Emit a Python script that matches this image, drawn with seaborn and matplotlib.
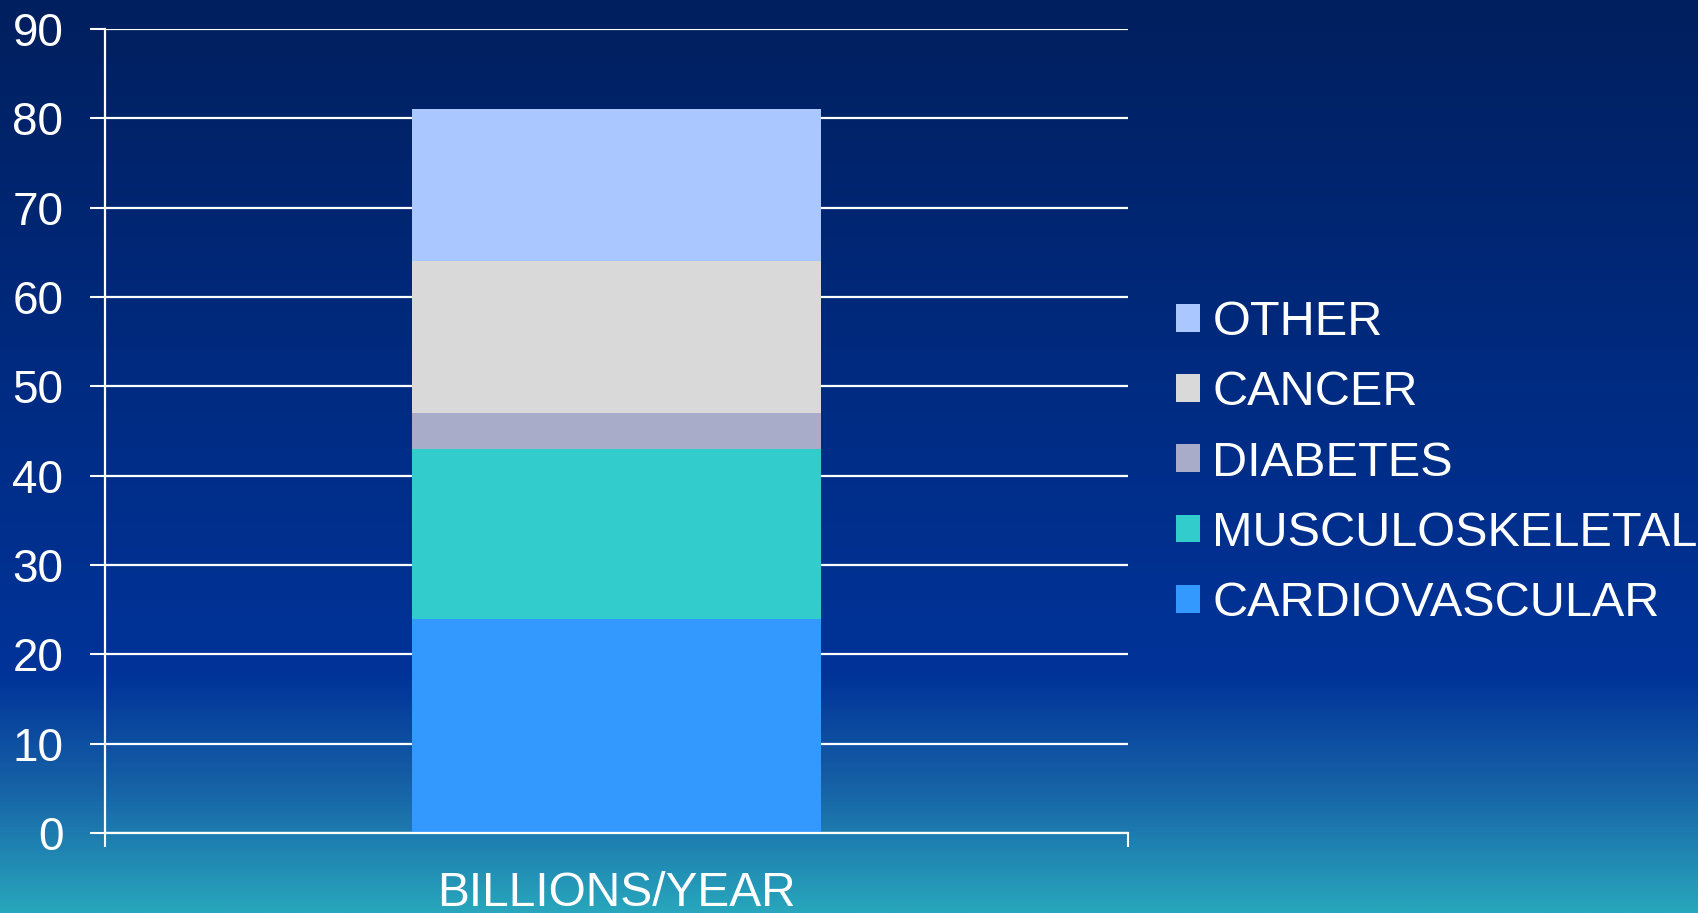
import numpy as np
import pandas as pd
import matplotlib
matplotlib.use("Agg")
import matplotlib.pyplot as plt
from matplotlib.colors import LinearSegmentedColormap
from matplotlib.patches import Patch
from matplotlib.ticker import FixedLocator
import seaborn as sns

# Annual cost, in billions of dollars, by disease group (stacked bottom to top)
category = "BILLIONS/YEAR"
groups = ["CARDIOVASCULAR", "MUSCULOSKELETAL", "DIABETES", "CANCER", "OTHER"]
values = [24, 19, 4, 17, 17]
colors = ["#3399FF", "#33CCCC", "#A8ACC8", "#D9D9D9", "#AAC8FF"]
y_ticks = [0, 10, 20, 30, 40, 50, 60, 70, 80, 90]

sns.set_style("white")
plt.rcParams["font.family"] = ["Liberation Sans", "DejaVu Sans"]

fig = plt.figure(figsize=(16.98, 9.13), dpi=100)

# Slide-style vertical gradient behind everything
bg = fig.add_axes([0, 0, 1, 1], zorder=-10)
grad_cmap = LinearSegmentedColormap.from_list(
    "slide_bg",
    [(0.0, "#001F5E"), (0.45, "#002C84"), (0.74, "#003399"),
     (0.86, "#1660A6"), (1.0, "#28A6BC")],
)
grad = np.linspace(0, 1, 512).reshape(-1, 1)
bg.imshow(grad, cmap=grad_cmap, aspect="auto", extent=[0, 1, 0, 1], origin="upper")
bg.set_axis_off()

ax = fig.add_axes([105 / 1698, 1 - 833 / 913, (1128 - 105) / 1698, (833 - 29) / 913], zorder=1)
ax.set_facecolor("none")

# Stacked bar: draw cumulative totals from the tallest down so each segment shows
cum = np.cumsum(values)
df = pd.DataFrame({"cat": [category] * len(groups), "top": cum, "group": groups})
for i in range(len(groups) - 1, -1, -1):
    sns.barplot(data=df.iloc[[i]], x="cat", y="top", color=colors[i],
                saturation=1, width=0.4, linewidth=0, ax=ax, zorder=2)

ax.set_xlim(-0.5, 0.5)
ax.set_ylim(0, 90)
ax.set_xlabel("")
ax.set_ylabel("")

ax.set_axisbelow(True)
ax.yaxis.grid(True, color="white", linewidth=1.6)
ax.xaxis.grid(False)

ax.set_yticks(y_ticks)
ax.tick_params(axis="y", colors="white", labelsize=33, length=11, width=1.5,
               direction="out", left=True, pad=19)
ax.tick_params(axis="x", which="major", colors="white", labelsize=34.5, length=0, pad=27)
ax.xaxis.set_minor_locator(FixedLocator([-0.5, 0.5]))
ax.tick_params(axis="x", which="minor", color="white", length=10, width=1.5,
               direction="out", bottom=True)

for side in ["top", "right"]:
    ax.spines[side].set_visible(False)
for side in ["left", "bottom"]:
    ax.spines[side].set_color("white")
    ax.spines[side].set_linewidth(1.6)

handles = [Patch(facecolor=colors[i], edgecolor="none", label=groups[i])
           for i in range(len(groups) - 1, -1, -1)]
leg = fig.legend(handles=handles, loc="center left",
                 bbox_to_anchor=(1176 / 1698, 1 - 463 / 913),
                 frameon=False, fontsize=35, labelcolor="white",
                 handlelength=0.5, handleheight=0.5, handletextpad=0.25,
                 labelspacing=0.52, borderpad=0, borderaxespad=0)

fig.savefig("out.png", dpi=100)
